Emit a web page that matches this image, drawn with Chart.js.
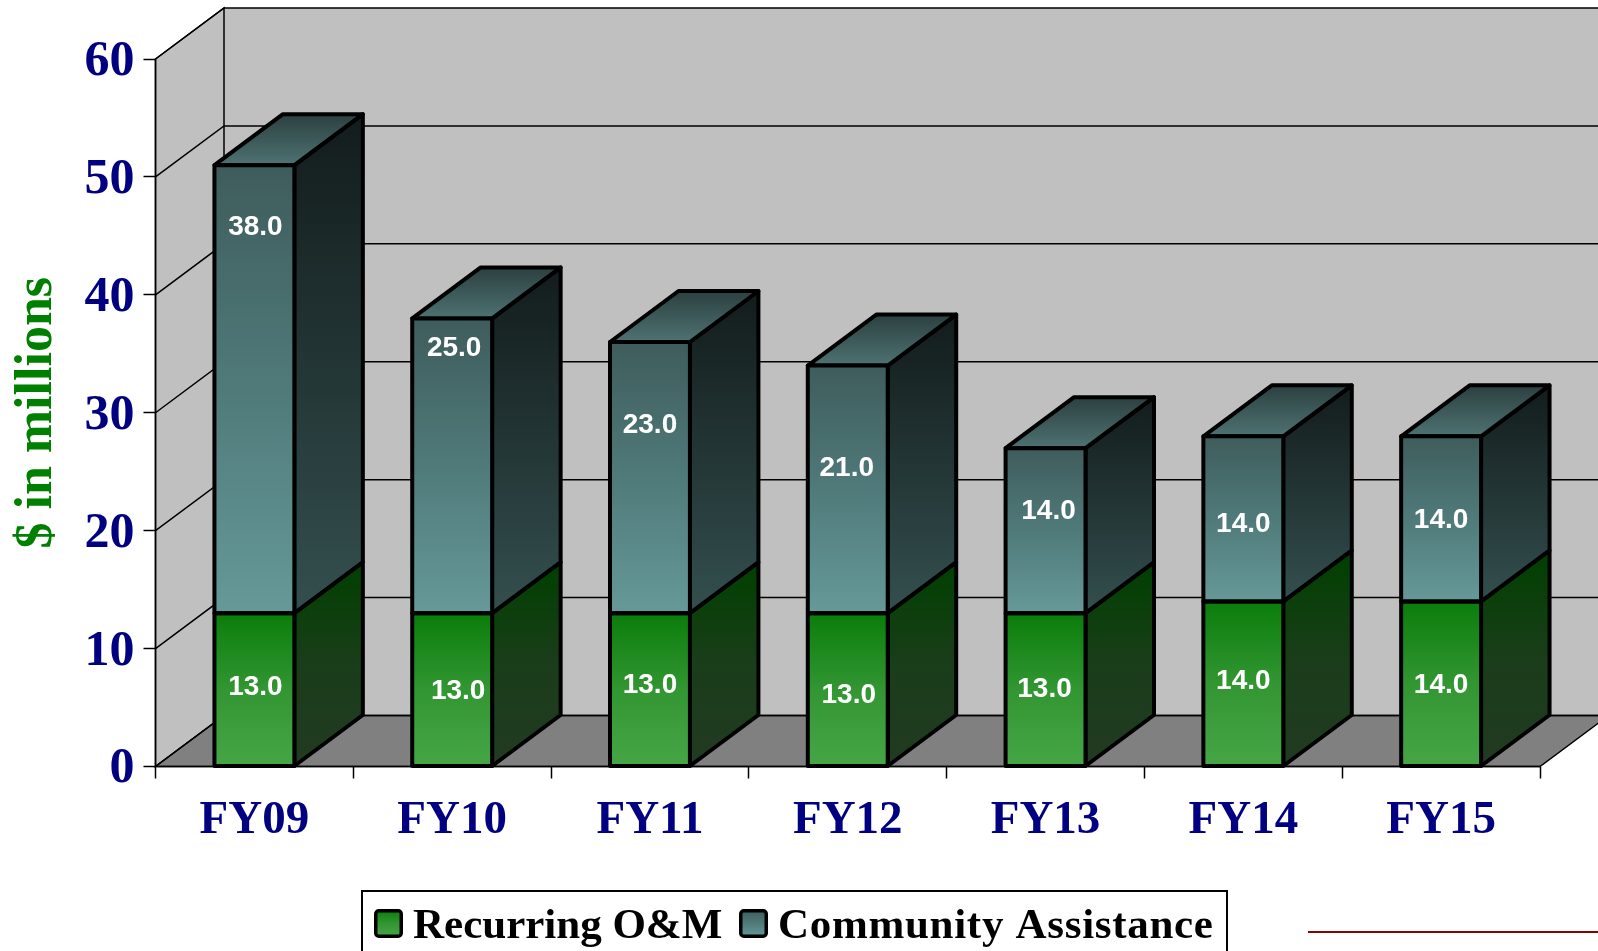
<!DOCTYPE html>
<html>
<head>
<meta charset="utf-8">
<style>
  html, body { margin: 0; padding: 0; background: #fff; overflow: hidden; }
  canvas { display: block; }
</style>
<script src="https://cdn.jsdelivr.net/npm/chart.js@4"></script>
</head>
<body>
<canvas id="myChart" width="1598" height="951"></canvas>
<script>
const fiscalYears = ['FY09', 'FY10', 'FY11', 'FY12', 'FY13', 'FY14', 'FY15']
const recurringOM = [13, 13, 13, 13, 13, 14, 14]
const communityAssistance = [38, 25, 23, 21, 14, 14, 14]

// hand placed value labels in the original, px away from segment centre
const recurringNudgeX = [1, 6, 0, 1, -1, 0, 0]
const recurringNudgeY = [-3, 1, -5, 5, -1, -3, 1]
const communityNudgeX = [1, 2, 0, -1, 3, 0, 0]
const communityNudgeY = [-163, -119, -53, -22, -20, 4, 0]

const depthX = 68.5
const depthY = 51
const edge = 4
const navy = '#000080'
const serif = '"Liberation Serif", serif'

const faces = [
    { front: ['#0a7d0a', '#329632', '#46a646'], side: ['#004000', '#1a3d1a', '#223a22'] },
    { front: ['#3f5c5c', '#507a7a', '#669999'], side: ['#131c1c', '#233535', '#344f4f'], top: ['#2c4040', '#3d5959', '#4e7272'] }
]

function vGrad(ctx, y0, y1, colors) {
    const g = ctx.createLinearGradient(0, y0, 0, y1)
    colors.forEach((c, i) => g.addColorStop(i / (colors.length - 1), c))
    return g
}

function poly(ctx, pts, fill) {
    ctx.beginPath()
    pts.forEach((p, i) => i ? ctx.lineTo(p[0], p[1]) : ctx.moveTo(p[0], p[1]))
    ctx.closePath()
    if (fill) {
        ctx.fillStyle = fill
        ctx.fill()
    }
    ctx.stroke()
}

function frontFill(stackIndex) {
    return (c) => {
        const y = c.chart.scales.y
        const fallback = faces[stackIndex].front[2]
        if (!y || c.dataIndex === undefined) return fallback
        let bottom = 0
        for (let d = 0; d < stackIndex; d++) bottom += c.chart.data.datasets[d].data[c.dataIndex]
        const top = bottom + c.chart.data.datasets[stackIndex].data[c.dataIndex]
        const y0 = y.getPixelForValue(top)
        const y1 = y.getPixelForValue(bottom)
        if (!isFinite(y0) || !isFinite(y1)) return fallback
        return vGrad(c.chart.ctx, y0, y1, faces[stackIndex].front)
    }
}

const chart3d = {
    id: 'chart3d',
    beforeDatasetsDraw(chart) {
        const { ctx, scales: { y }, chartArea: area } = chart
        const w = chart.width
        const floorY = y.getPixelForValue(0)
        const backLeft = area.left + depthX

        ctx.save()
        ctx.strokeStyle = '#000'
        ctx.lineWidth = 1.5

        // walls and floor
        ctx.fillStyle = '#c0c0c0'
        ctx.fillRect(backLeft, area.top - depthY, w - backLeft, floorY - area.top)
        poly(ctx, [[area.left, area.top], [backLeft, area.top - depthY], [backLeft, floorY - depthY], [area.left, floorY]], '#c0c0c0')
        poly(ctx, [[area.left, floorY], [area.right, floorY], [area.right + depthX, floorY - depthY], [backLeft, floorY - depthY]], '#808080')

        // gridlines round the two walls
        y.ticks.forEach(t => {
            const py = y.getPixelForValue(t.value)
            ctx.beginPath()
            ctx.moveTo(area.left, py)
            ctx.lineTo(backLeft, py - depthY)
            ctx.lineTo(w, py - depthY)
            ctx.stroke()
        })

        // side and top faces of the boxes
        ctx.lineWidth = edge
        ctx.lineJoin = 'round'
        chart.data.datasets.forEach((ds, d) => {
            chart.getDatasetMeta(d).data.forEach(bar => {
                const r = bar.x + bar.width / 2
                const l = bar.x - bar.width / 2
                poly(ctx, [[r, bar.base], [r, bar.y], [r + depthX, bar.y - depthY], [r + depthX, bar.base - depthY]],
                    vGrad(ctx, bar.y - depthY, bar.base, faces[d].side))
                if (faces[d].top) {
                    poly(ctx, [[l, bar.y], [r, bar.y], [r + depthX, bar.y - depthY], [l + depthX, bar.y - depthY]],
                        vGrad(ctx, bar.y - depthY, bar.y, faces[d].top))
                }
            })
        })
        ctx.restore()
    },
    afterDatasetsDraw(chart) {
        const { ctx, scales: { y }, chartArea: area } = chart
        const floorY = y.getPixelForValue(0)
        const nudges = [[recurringNudgeX, recurringNudgeY], [communityNudgeX, communityNudgeY]]

        ctx.save()
        ctx.strokeStyle = '#000'
        ctx.lineWidth = 1.5
        ctx.beginPath()
        ctx.moveTo(area.left, area.top)
        ctx.lineTo(area.left, floorY)
        ctx.lineTo(area.right, floorY)
        ctx.stroke()

        // front outlines, centred on the value like the original
        ctx.lineWidth = edge
        ctx.lineJoin = 'round'
        chart.data.datasets.forEach((ds, d) => {
            chart.getDatasetMeta(d).data.forEach(bar => {
                ctx.strokeRect(bar.x - bar.width / 2, bar.y, bar.width, bar.base - bar.y)
            })
        })

        // value labels
        ctx.fillStyle = '#fff'
        ctx.font = 'bold 28px "Liberation Sans", sans-serif'
        ctx.textAlign = 'center'
        ctx.textBaseline = 'middle'
        chart.data.datasets.forEach((ds, d) => {
            chart.getDatasetMeta(d).data.forEach((bar, i) => {
                ctx.fillText(ds.data[i].toFixed(1), bar.x + nudges[d][0][i], (bar.y + bar.base) / 2 + nudges[d][1][i] + 1)
            })
        })
        ctx.restore()
    }
}

const legendBox = {
    id: 'legendBox',
    afterDraw(chart) {
        const { ctx } = chart
        ctx.save()
        ctx.fillStyle = '#fff'
        ctx.strokeStyle = '#000'
        ctx.lineWidth = 2
        ctx.fillRect(362, 891, 865, 70)
        ctx.strokeRect(362, 891, 865, 70)

        const swatchX = [375.75, 740.75]
        const textX = [413, 778]
        const textSpacing = ['0px', '0.7px']
        ctx.font = 'bold 43px ' + serif
        ctx.textAlign = 'left'
        ctx.textBaseline = 'alphabetic'
        chart.data.datasets.forEach((ds, d) => {
            ctx.beginPath()
            ctx.roundRect(swatchX[d], 910.75, 25.5, 25.5, 3)
            ctx.fillStyle = vGrad(ctx, 910, 937, faces[d].front)
            ctx.fill()
            ctx.lineWidth = 3.5
            ctx.stroke()
            ctx.fillStyle = '#000'
            ctx.letterSpacing = textSpacing[d]
            ctx.fillText(ds.label, textX[d], 938)
        })
        ctx.letterSpacing = '0px'

        // stray rule in the corner of the slide
        ctx.strokeStyle = '#8b0000'
        ctx.lineWidth = 2
        ctx.beginPath()
        ctx.moveTo(1308, 932)
        ctx.lineTo(1598, 932)
        ctx.stroke()
        ctx.restore()
    }
}

const chart = new Chart(document.getElementById('myChart'), {
    type: 'bar',
    data: {
        labels: fiscalYears,
        datasets: [
            { label: 'Recurring O&M', data: recurringOM, backgroundColor: frontFill(0) },
            { label: 'Community Assistance', data: communityAssistance, backgroundColor: frontFill(1) }
        ]
    },
    options: {
        responsive: false,
        animation: false,
        events: [],
        layout: { padding: { left: 0, right: 58, top: 59, bottom: 0 } },
        datasets: { bar: { categoryPercentage: 1, barPercentage: 0.404, borderWidth: 0 } },
        plugins: { legend: { display: false }, tooltip: { enabled: false }, title: { display: false } },
        scales: {
            x: {
                stacked: true,
                afterFit(scale) { scale.height = 184.5 },
                border: { display: false },
                grid: { drawOnChartArea: false, tickLength: 12, tickColor: '#000', tickWidth: 1.5 },
                ticks: { color: navy, font: { family: serif, size: 47, weight: 'bold' }, padding: 14, maxRotation: 0 }
            },
            y: {
                stacked: true,
                min: 0,
                max: 60,
                afterFit(scale) { scale.width = 155.5 },
                border: { display: false },
                grid: { drawOnChartArea: false, tickLength: 12, tickColor: '#000', tickWidth: 1.5 },
                ticks: { stepSize: 10, color: navy, font: { family: serif, size: 50, weight: 'bold' }, padding: 9, labelOffset: 3 },
                title: {
                    display: true,
                    text: '$ in millions',
                    color: '#008000',
                    font: { family: serif, size: 52, weight: 'bold' },
                    padding: { top: 6, bottom: 0 }
                }
            }
        }
    },
    plugins: [chart3d, legendBox]
})
</script>
</body>
</html>
